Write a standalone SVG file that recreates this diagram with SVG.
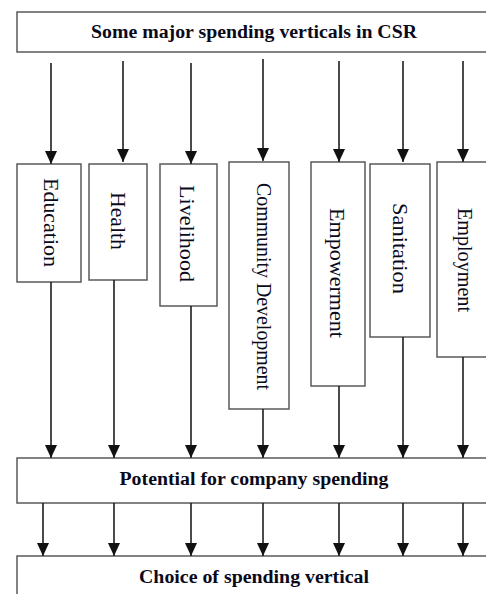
<svg xmlns="http://www.w3.org/2000/svg" width="486" height="594" viewBox="0 0 486 594">
  <style>
    .box { fill: #ffffff; stroke: #5a5a5a; stroke-width: 1.5; }
    .head { font-family: "Liberation Serif", "Times New Roman", serif; font-weight: bold; font-size: 18px; fill: #0a0a1a; text-anchor: middle; }
    .vlab { font-family: "Liberation Serif", "Times New Roman", serif; font-size: 21px; fill: #0a0a1a; text-anchor: middle; }
    .link { stroke: #1e1e1e; stroke-width: 1.6; fill: none; marker-end: url(#arrow); }
  </style>
  <defs>
    <marker id="arrow" markerUnits="userSpaceOnUse" markerWidth="12" markerHeight="13" refX="13" refY="6" orient="auto">
      <path d="M0,0 L13,6 L0,12 z" fill="#111111"/>
    </marker>
  </defs>

  <rect width="486" height="594" fill="#ffffff"/>

  <!-- header -->
  <g id="csr-verticals">
    <rect class="box" x="17" y="12" width="490" height="40"/>
    <text class="head" x="254" y="38" textLength="326" lengthAdjust="spacingAndGlyphs">Some major spending verticals in CSR</text>
  </g>

  <!-- vertical boxes, labels read top to bottom -->
  <g id="education">
    <rect class="box" x="17" y="164" width="64" height="118"/>
    <text class="vlab" transform="translate(44,222.5) rotate(90)" textLength="89" lengthAdjust="spacingAndGlyphs">Education</text>
  </g>
  <g id="health">
    <rect class="box" x="89" y="164" width="58" height="116"/>
    <text class="vlab" transform="translate(111,221) rotate(90)" textLength="58" lengthAdjust="spacingAndGlyphs">Health</text>
  </g>
  <g id="livelihood">
    <rect class="box" x="160" y="164" width="57" height="142"/>
    <text class="vlab" transform="translate(180,233.5) rotate(90)" textLength="97" lengthAdjust="spacingAndGlyphs">Livelihood</text>
  </g>
  <g id="community-development">
    <rect class="box" x="229" y="162" width="60" height="247"/>
    <text class="vlab" transform="translate(257,286.5) rotate(90)" textLength="207" lengthAdjust="spacingAndGlyphs">Community Development</text>
  </g>
  <g id="empowerment">
    <rect class="box" x="311" y="162" width="54" height="224"/>
    <text class="vlab" transform="translate(330,273) rotate(90)" textLength="130" lengthAdjust="spacingAndGlyphs">Empowerment</text>
  </g>
  <g id="sanitation">
    <rect class="box" x="370" y="164" width="60" height="173"/>
    <text class="vlab" transform="translate(393,248.5) rotate(90)" textLength="91" lengthAdjust="spacingAndGlyphs">Sanitation</text>
  </g>
  <g id="employment">
    <rect class="box" x="437" y="162" width="70" height="195"/>
    <text class="vlab" transform="translate(458,260) rotate(90)" textLength="104" lengthAdjust="spacingAndGlyphs">Employment</text>
  </g>

  <!-- aggregation -->
  <g id="potential">
    <rect class="box" x="17" y="458" width="490" height="45"/>
    <text class="head" x="254" y="485" textLength="269" lengthAdjust="spacingAndGlyphs">Potential for company spending</text>
  </g>
  <g id="choice">
    <rect class="box" x="17" y="556" width="490" height="50"/>
    <text class="head" x="254" y="583" textLength="230" lengthAdjust="spacingAndGlyphs">Choice of spending vertical</text>
  </g>

  <g id="connectors">
    <!-- header to verticals -->
    <line class="link" x1="51" y1="63" x2="51" y2="164"/>
    <line class="link" x1="123" y1="61" x2="123" y2="162"/>
    <line class="link" x1="191" y1="63" x2="191" y2="164"/>
    <line class="link" x1="263" y1="59" x2="263" y2="161"/>
    <line class="link" x1="339" y1="61" x2="339" y2="162"/>
    <line class="link" x1="403" y1="61" x2="403" y2="162"/>
    <line class="link" x1="463" y1="61" x2="463" y2="162"/>
    <!-- verticals to potential -->
    <line class="link" x1="51" y1="282" x2="51" y2="458"/>
    <line class="link" x1="114" y1="280" x2="114" y2="458"/>
    <line class="link" x1="191" y1="306" x2="191" y2="458"/>
    <line class="link" x1="263" y1="409" x2="263" y2="458"/>
    <line class="link" x1="339" y1="386" x2="339" y2="458"/>
    <line class="link" x1="403" y1="337" x2="403" y2="458"/>
    <line class="link" x1="463" y1="357" x2="463" y2="458"/>
    <!-- potential to choice -->
    <line class="link" x1="43" y1="503" x2="43" y2="556"/>
    <line class="link" x1="114" y1="503" x2="114" y2="556"/>
    <line class="link" x1="191" y1="503" x2="191" y2="556"/>
    <line class="link" x1="263" y1="503" x2="263" y2="556"/>
    <line class="link" x1="339" y1="503" x2="339" y2="556"/>
    <line class="link" x1="403" y1="503" x2="403" y2="556"/>
    <line class="link" x1="463" y1="503" x2="463" y2="556"/>
  </g>
</svg>
